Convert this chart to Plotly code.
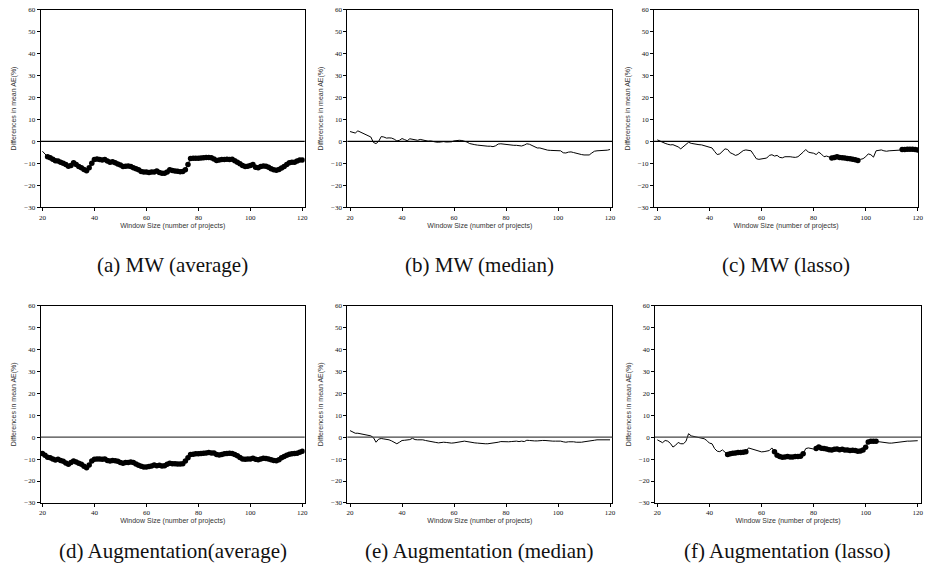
import plotly.graph_objects as go

window = list(range(20, 121))

mw_average = [-4.5, -6.0, -7.0, -7.5, -8.2, -8.8, -9.0, -9.5, -10.0, -10.5,
              -11.3, -11.0, -9.8, -10.5, -11.5, -12.0, -12.8, -13.4, -12.0, -10.0,
              -8.3, -8.0, -8.3, -8.5, -8.3, -9.0, -9.5, -9.3, -9.8, -10.3,
              -10.8, -11.5, -11.3, -11.2, -11.5, -12.0, -12.5, -13.0, -13.7, -14.0,
              -14.0, -14.2, -14.0, -14.0, -13.5, -14.2, -14.5, -14.5, -14.0, -13.0,
              -13.3, -13.5, -13.6, -13.8, -13.7, -13.0, -10.5, -7.8, -7.7, -7.7,
              -7.7, -7.6, -7.5, -7.4, -7.3, -7.5, -8.0, -8.7, -8.5, -8.3,
              -8.3, -8.2, -8.3, -8.2, -8.8, -9.5, -10.2, -11.0, -11.5, -11.3,
              -11.0, -10.5, -11.8, -12.0, -11.5, -11.2, -11.3, -11.8, -12.5, -13.0,
              -13.2, -12.8, -12.2, -11.5, -10.5, -9.7, -9.5, -9.5, -9.0, -8.5,
              -8.5]

mw_median = [4.5, 4.3, 3.8, 4.8, 4.3, 3.5, 3.2, 2.8, 2.0, -0.5,
             -1.0, 0.0, 2.2, 2.0, 1.5, 1.6, 1.5, 1.0, 0.2, 0.5,
             1.3, 0.8, 0.3, 1.2, 1.0, 0.6, 0.5, 0.9, 0.6, 0.2,
             0.1, 0.2, -0.2, -0.3, -0.4, -0.2, -0.1, -0.3, -0.3, -0.2,
             0.2, 0.4, 0.5, 0.4, 0.2, -0.3, -1.0, -1.4, -1.5, -1.7,
             -1.9, -2.0, -2.1, -2.2, -2.2, -2.4, -2.0, -1.2, -1.1, -1.3,
             -1.5, -1.6, -1.7, -1.8, -1.8, -2.0, -2.1, -1.7, -1.1, -1.3,
             -1.8, -2.5, -3.0, -3.0, -3.4, -3.8, -4.0, -4.1, -4.1, -4.2,
             -4.2, -4.3, -5.2, -5.3, -4.9, -4.8, -5.1, -5.5, -5.8, -6.0,
             -6.2, -6.1, -6.2, -5.3, -4.5, -4.3, -4.3, -4.3, -4.2, -4.0,
             -3.7]

mw_lasso = [0.7, 0.1, -0.4, -0.9, -1.3, -1.6, -1.5, -1.9, -2.5, -3.4,
            -2.5, -1.5, -0.4, -0.9, -1.2, -1.3, -1.5, -1.6, -1.9, -2.2,
            -2.5, -3.0, -4.6, -6.0, -5.7, -4.5, -3.4, -3.7, -5.2, -5.7,
            -6.4, -6.0, -4.9, -4.2, -3.9, -4.0, -4.3, -6.1, -7.9, -8.2,
            -8.1, -7.9, -7.6, -6.4, -6.1, -6.7, -6.4, -7.3, -7.5, -7.0,
            -6.9, -7.0, -7.2, -7.3, -7.0, -5.7, -4.9, -3.7, -4.9, -5.2,
            -5.4, -6.0, -4.9, -5.8, -7.0, -6.7, -7.0, -7.6, -7.3, -7.0,
            -7.3, -7.5, -7.6, -7.8, -7.9, -8.1, -8.4, -8.7, -8.2, -7.9,
            -7.0, -5.7, -6.1, -7.2, -4.3, -4.0, -3.9, -4.3, -4.5, -4.3,
            -4.3, -4.2, -4.2, -4.0, -3.7, -3.7, -3.6, -3.6, -3.6, -3.7,
            -3.9]

aug_average = [-7.5, -8.2, -9.1, -9.4, -10.0, -10.4, -10.1, -10.6, -11.0, -11.8,
               -12.4, -11.6, -10.9, -11.3, -11.9, -12.4, -13.3, -14.0, -12.7, -10.9,
               -10.1, -10.0, -10.0, -10.1, -10.0, -10.6, -10.9, -10.6, -10.7, -11.0,
               -11.5, -11.9, -11.6, -11.5, -11.3, -11.6, -12.2, -12.8, -13.3, -13.6,
               -13.6, -13.4, -13.1, -12.7, -13.0, -12.8, -13.1, -13.0, -12.4, -11.9,
               -12.1, -12.1, -12.2, -12.2, -12.1, -10.9, -9.4, -7.9, -7.8, -7.6,
               -7.6, -7.5, -7.3, -7.2, -7.0, -7.2, -7.2, -7.9, -8.1, -7.9,
               -7.6, -7.5, -7.3, -7.5, -7.9, -8.5, -9.3, -9.9, -10.1, -10.0,
               -9.9, -9.6, -10.1, -10.3, -9.9, -9.6, -9.7, -10.0, -10.3, -10.6,
               -10.7, -10.3, -9.4, -8.8, -8.2, -7.8, -7.6, -7.5, -7.3, -6.9,
               -6.4]

aug_median = [3.0, 2.3, 1.8, 1.8, 1.5, 1.2, 1.0, 0.9, 0.6, -0.2,
              -2.3, -0.9, -0.6, -0.8, -0.9, -1.2, -1.7, -2.3, -3.0, -2.3,
              -1.5, -1.4, -1.4, -1.1, -0.5, -1.1, -1.2, -1.1, -1.2, -1.5,
              -1.8, -2.0, -2.1, -2.4, -2.6, -2.4, -2.3, -2.4, -2.6, -2.7,
              -2.6, -2.4, -2.1, -2.0, -1.8, -2.0, -2.3, -2.4, -2.6, -2.7,
              -2.9, -3.0, -3.0, -3.0, -2.9, -2.7, -2.6, -2.3, -2.0, -2.1,
              -2.1, -2.1, -2.0, -1.8, -1.8, -2.0, -1.8, -2.0, -1.4, -1.5,
              -1.7, -1.7, -1.7, -1.5, -1.5, -1.5, -1.7, -1.7, -1.8, -1.8,
              -1.7, -1.8, -2.1, -2.3, -2.1, -2.0, -2.1, -2.3, -2.4, -2.3,
              -2.1, -2.0, -1.8, -1.5, -1.4, -1.2, -1.2, -1.2, -1.2, -1.2,
              -1.2]

aug_lasso = [-1.2, -1.9, -2.5, -1.5, -1.8, -2.8, -4.5, -3.7, -2.4, -3.0,
             -3.0, -1.9, 1.6, 0.6, 0.3, 0.1, -0.1, -0.3, -0.7, -1.5,
             -2.7, -3.0, -5.2, -6.4, -6.6, -5.8, -6.7, -7.9, -7.6, -7.3,
             -7.2, -7.0, -7.0, -6.9, -6.7, -4.9, -5.2, -5.5, -5.8, -6.4,
             -6.7, -6.6, -6.4, -6.1, -4.9, -6.7, -8.2, -8.8, -9.1, -9.0,
             -8.8, -9.0, -9.0, -8.8, -8.8, -8.7, -7.6, -5.2, -4.9, -5.1,
             -5.4, -5.2, -4.5, -5.1, -5.2, -5.4, -5.7, -5.8, -5.5, -5.4,
             -5.7, -5.5, -5.8, -5.8, -6.1, -6.0, -6.1, -6.4, -6.3, -5.8,
             -4.6, -2.2, -1.9, -1.9, -1.9, -2.1, -2.4, -2.5, -2.7, -2.7,
             -2.7, -2.5, -2.4, -2.2, -1.9, -1.8, -1.8, -1.8, -1.8, -1.6,
             -1.6]

# windows where the difference is significant (drawn with dots)
sig_mw_average = list(range(22, 121))
sig_mw_median = []
sig_mw_lasso = list(range(87, 98)) + list(range(114, 121))
sig_aug_average = list(range(20, 121))
sig_aug_median = []
sig_aug_lasso = list(range(47, 55)) + list(range(65, 77)) + list(range(81, 105))

captions = ["(a) MW (average)", "(b) MW (median)", "(c) MW (lasso)",
            "(d) Augmentation(average)", "(e) Augmentation (median)", "(f) Augmentation (lasso)"]

y_ticks = [-30, -20, -10, 0, 10, 20, 30, 40, 50, 60]
x_ticks = [20, 40, 60, 80, 100, 120]

series = [mw_average, mw_median, mw_lasso, aug_average, aug_median, aug_lasso]
sigs = [sig_mw_average, sig_mw_median, sig_mw_lasso, sig_aug_average, sig_aug_median, sig_aug_lasso]

W, H = 926, 572
# pixel boxes (left, right, top, bottom) and x ranges
boxes = [(39, 305, 6, 206), (348, 615, 6, 206), (657, 923, 6, 206),
         (39, 305, 306, 506), (348, 615, 306, 506), (658, 926, 306, 506)]
xranges = [[19.35, 120.9], [18.97, 120.9], [18.74, 120.1],
           [19.35, 120.9], [18.97, 120.9], [19.12, 121.26]]
caption_y = [265, 265, 265, 555, 555, 555]
zero_colors = ["#000000"] * 3 + ["#444444"] * 3

fig = go.Figure()
tick_font = dict(family="Liberation Serif", size=7, color="#111111")
title_font = dict(family="Liberation Sans", size=7, color="#333333")

def fmt(v):
    return ("\u2212" + str(abs(v))) if v < 0 else str(v)

for i in range(6):
    n = "" if i == 0 else str(i + 1)
    l, r, t, b = boxes[i]
    xa = dict(domain=[l / W, min(r / W, 1.0)], range=xranges[i], anchor="y" + n,
              tickvals=x_ticks, ticktext=[fmt(v) for v in x_ticks],
              ticks="outside", ticklen=3, tickwidth=0.8, tickcolor="#000",
              showline=True, linecolor="#000", linewidth=1, mirror=True,
              showgrid=False, zeroline=False, tickfont=tick_font,
              title=dict(text="Window Size (number of projects)", font=title_font, standoff=0))
    ya = dict(domain=[1 - b / H, 1 - t / H], range=[-30, 60], anchor="x" + n,
              tickvals=y_ticks, ticktext=[fmt(v) for v in y_ticks],
              ticks="outside", ticklen=3, tickwidth=0.8, tickcolor="#000",
              showline=True, linecolor="#000", linewidth=1, mirror=True,
              showgrid=False, zeroline=False, tickfont=tick_font,
              title=dict(text="Differences in mean AE(%)", font=title_font, standoff=6))
    fig.layout["xaxis" + n] = xa
    fig.layout["yaxis" + n] = ya
    vals = series[i]
    fig.add_trace(go.Scatter(x=window, y=vals, mode="lines",
                             line=dict(color="#000", width=1),
                             xaxis="x" + n, yaxis="y" + n, showlegend=False))
    sx = [w for w in window if w in sigs[i]]
    sy = [vals[window.index(w)] for w in sx]
    if sx:
        fig.add_trace(go.Scatter(x=sx, y=sy, mode="markers",
                                 marker=dict(color="#000", size=5.5, line=dict(width=0)),
                                 xaxis="x" + n, yaxis="y" + n, showlegend=False))
    fig.add_shape(type="line", xref="x" + n + " domain", yref="y" + n,
                  x0=0, x1=1, y0=0, y1=0, line=dict(color=zero_colors[i], width=1.3))
    cx = (l + min(r, 923)) / 2 / W
    cy = 1 - caption_y[i] / H
    fig.add_annotation(text=captions[i], xref="paper", yref="paper", x=cx, y=cy,
                       showarrow=False, xanchor="center", yanchor="middle",
                       font=dict(family="Liberation Serif", size=21, color="#111"))

fig.update_layout(width=W, height=H, margin=dict(l=0, r=0, t=0, b=0),
                  paper_bgcolor="white", plot_bgcolor="white")
fig.write_html("out.html", config={"displayModeBar": False},
               post_script="document.body.style.margin='0';document.body.style.padding='0';document.body.style.overflow='hidden';")
